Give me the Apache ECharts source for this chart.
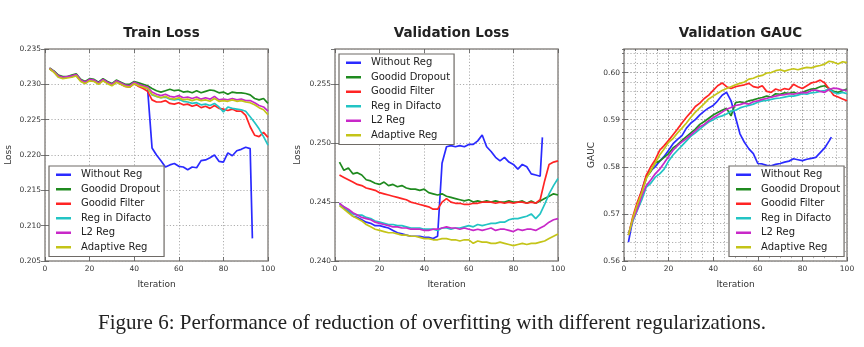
<!DOCTYPE html>
<html>
<head>
<meta charset="utf-8">
<script src="https://cdn.jsdelivr.net/npm/echarts@6/dist/echarts.min.js"></script>
<style>
html,body{margin:0;padding:0;background:#fff;}
#chart{width:864px;height:347px;}
</style>
</head>
<body>
<div id="chart"></div>
<script>
// ---------- data ----------
const seriesNames = ['Without Reg','Goodid Dropout','Goodid Filter','Reg in Difacto','L2 Reg','Adaptive Reg'];
const iterations = [2,4,6,8,10,12,14,16,18,20,22,24,26,28,30,32,34,36,38,40,42,44,46,48,50,52,54,56,58,60,62,64,66,68,70,72,74,76,78,80,82,84,86,88,90,92,94,96,98,100];
const blueIterations = [2,4,6,8,10,12,14,16,18,20,22,24,26,28,30,32,34,36,38,40,42,44,46,48,50,52,54,56,58,60,62,64,66,68,70,72,74,76,78,80,82,84,86,88,90,92,93];

const xTicks = [0,20,40,60,80,100];
const trainYTicks = [0.205,0.210,0.215,0.220,0.225,0.230,0.235];
const valYTicks = [0.240,0.245,0.250,0.255];
const gaucYTicks = [0.56,0.57,0.58,0.59,0.60];

// Train Loss
const trainBlue = [0.2322,0.2318,0.2311,0.2309,0.2310,0.2311,0.2313,0.2305,0.2302,0.2306,0.2305,0.2301,0.2306,0.2302,0.2299,0.2304,0.2301,0.2298,0.2297,0.2301,0.2298,0.2296,0.2294,
  0.2210,0.2200,0.2192,0.2183,0.2186,0.2188,0.2184,0.2183,0.2179,0.2183,0.2182,0.2192,0.2193,0.2196,0.2200,0.2191,0.2190,0.2203,0.2199,0.2206,0.2208,0.2211,0.2209,0.2082];
const trainGreen = [0.2323,0.2319,0.2313,0.2311,0.2311,0.2313,0.2315,0.2307,0.2304,0.2308,0.2307,0.2303,0.2308,0.2304,0.2301,0.2306,0.2303,0.2300,0.2300,0.2304,0.2302,0.2300,0.2298,
  0.2294,0.2291,0.2289,0.2291,0.2293,0.2291,0.2292,0.2289,0.2290,0.2288,0.2291,0.2288,0.2290,0.2292,0.2291,0.2288,0.2289,0.2286,0.2289,0.2288,0.2288,0.2287,0.2285,0.2280,0.2278,0.2280,0.2273];
const trainRed = [0.2322,0.2318,0.2311,0.2309,0.2310,0.2311,0.2313,0.2305,0.2302,0.2306,0.2305,0.2301,0.2306,0.2302,0.2299,0.2304,0.2300,0.2297,0.2296,0.2301,0.2297,0.2294,0.2290,
  0.2278,0.2275,0.2275,0.2277,0.2273,0.2272,0.2274,0.2271,0.2272,0.2269,0.2271,0.2267,0.2269,0.2266,0.2270,0.2266,0.2265,0.2263,0.2265,0.2262,0.2262,0.2256,0.2240,0.2228,0.2226,0.2232,0.2225];
const trainCyan = [0.2322,0.2318,0.2311,0.2309,0.2310,0.2311,0.2313,0.2305,0.2302,0.2306,0.2305,0.2301,0.2306,0.2302,0.2299,0.2304,0.2301,0.2298,0.2297,0.2302,0.2299,0.2297,0.2295,
  0.2285,0.2283,0.2281,0.2282,0.2279,0.2278,0.2279,0.2276,0.2275,0.2273,0.2274,0.2271,0.2272,0.2270,0.2273,0.2268,0.2261,0.2268,0.2266,0.2265,0.2264,0.2262,0.2254,0.2246,0.2237,0.2226,0.2214];
const trainMagenta = [0.2323,0.2318,0.2312,0.2310,0.2311,0.2312,0.2314,0.2306,0.2303,0.2307,0.2306,0.2302,0.2307,0.2303,0.2300,0.2305,0.2302,0.2299,0.2298,0.2303,0.2300,0.2298,0.2296,
  0.2289,0.2286,0.2284,0.2286,0.2283,0.2282,0.2284,0.2281,0.2282,0.2280,0.2282,0.2279,0.2281,0.2279,0.2283,0.2278,0.2279,0.2278,0.2280,0.2278,0.2279,0.2277,0.2277,0.2274,0.2270,0.2268,0.2262];
const trainYellow = [0.2322,0.2317,0.2310,0.2308,0.2309,0.2310,0.2312,0.2304,0.2301,0.2305,0.2304,0.2300,0.2305,0.2301,0.2298,0.2303,0.2300,0.2297,0.2296,0.2301,0.2298,0.2296,0.2294,
  0.2286,0.2283,0.2281,0.2283,0.2280,0.2279,0.2281,0.2278,0.2279,0.2277,0.2279,0.2277,0.2278,0.2276,0.2280,0.2276,0.2277,0.2276,0.2278,0.2276,0.2277,0.2275,0.2274,0.2271,0.2267,0.2264,0.2257];

// Validation Loss
const valBlue = [0.2449,0.2445,0.2442,0.2438,0.2437,0.2435,0.2433,0.2432,0.2430,0.2430,0.2429,0.2428,0.2426,0.2424,0.2423,0.2422,0.2421,0.2421,0.2421,0.2420,0.2420,0.2419,0.2421,
  0.2483,0.2497,0.2498,0.2497,0.2498,0.2497,0.2499,0.2499,0.2502,0.2507,0.2497,0.2493,0.2488,0.2485,0.2488,0.2484,0.2482,0.2478,0.2482,0.2480,0.2474,0.2473,0.2472,0.2505];
const valGreen = [0.2484,0.2477,0.2479,0.2474,0.2475,0.2473,0.2469,0.2468,0.2466,0.2465,0.2467,0.2464,0.2465,0.2463,0.2464,0.2462,0.2461,0.2461,0.2460,0.2461,0.2458,0.2457,0.2456,
  0.2457,0.2455,0.2454,0.2453,0.2452,0.2451,0.2452,0.2450,0.2451,0.2450,0.2451,0.2450,0.2451,0.2450,0.2450,0.2451,0.2450,0.2450,0.2451,0.2449,0.2451,0.2449,0.2451,0.2453,0.2455,0.2457,0.2456];
const valRed = [0.2473,0.2471,0.2469,0.2467,0.2465,0.2464,0.2462,0.2461,0.2460,0.2458,0.2457,0.2456,0.2455,0.2454,0.2453,0.2452,0.2450,0.2449,0.2448,0.2447,0.2446,0.2444,0.2444,
  0.2450,0.2453,0.2450,0.2449,0.2449,0.2448,0.2448,0.2449,0.2449,0.2450,0.2450,0.2450,0.2449,0.2450,0.2449,0.2450,0.2449,0.2450,0.2450,0.2449,0.2450,0.2449,0.2452,0.2468,0.2482,0.2484,0.2485];
const valCyan = [0.2448,0.2446,0.2443,0.2440,0.2439,0.2439,0.2437,0.2436,0.2434,0.2433,0.2432,0.2431,0.2431,0.2430,0.2430,0.2429,0.2428,0.2428,0.2428,0.2427,0.2427,0.2427,0.2426,
  0.2428,0.2428,0.2427,0.2428,0.2428,0.2429,0.2430,0.2429,0.2431,0.2430,0.2431,0.2432,0.2432,0.2433,0.2433,0.2435,0.2436,0.2436,0.2437,0.2438,0.2440,0.2436,0.2440,0.2448,0.2457,0.2464,0.2470];
const valMagenta = [0.2449,0.2446,0.2444,0.2441,0.2439,0.2437,0.2436,0.2435,0.2433,0.2432,0.2431,0.2430,0.2429,0.2429,0.2428,0.2428,0.2427,0.2427,0.2427,0.2426,0.2426,0.2427,0.2427,
  0.2428,0.2429,0.2428,0.2428,0.2427,0.2428,0.2427,0.2426,0.2427,0.2426,0.2427,0.2428,0.2426,0.2427,0.2427,0.2426,0.2425,0.2427,0.2426,0.2427,0.2427,0.2426,0.2428,0.2430,0.2433,0.2435,0.2436];
const valYellow = [0.2447,0.2444,0.2441,0.2438,0.2436,0.2434,0.2431,0.2429,0.2427,0.2426,0.2425,0.2424,0.2424,0.2423,0.2422,0.2422,0.2421,0.2421,0.2420,0.2419,0.2419,0.2418,0.2418,
  0.2419,0.2419,0.2418,0.2418,0.2417,0.2418,0.2418,0.2415,0.2417,0.2416,0.2416,0.2415,0.2415,0.2416,0.2415,0.2414,0.2413,0.2414,0.2415,0.2414,0.2415,0.2415,0.2416,0.2417,0.2419,0.2421,0.2423];

// Validation GAUC
const gaucBlue = [0.5640,0.5690,0.5720,0.5750,0.5780,0.5792,0.5800,0.5812,0.5822,0.5835,0.5849,0.5858,0.5866,0.5882,0.5893,0.5900,0.5910,0.5918,0.5925,0.5930,0.5940,0.5952,0.5958,
  0.5940,0.5905,0.5870,0.5852,0.5838,0.5828,0.5807,0.5806,0.5803,0.5802,0.5805,0.5807,0.5810,0.5812,0.5817,0.5815,0.5813,0.5816,0.5818,0.5820,0.5830,0.5840,0.5855,0.5863];
const gaucGreen = [0.5655,0.5690,0.5718,0.5745,0.5777,0.5790,0.5808,0.5812,0.5820,0.5828,0.5840,0.5847,0.5856,0.5864,0.5872,0.5880,0.5890,0.5896,0.5903,0.5910,0.5915,0.5920,0.5924,
  0.5908,0.5936,0.5938,0.5936,0.5940,0.5942,0.5945,0.5947,0.5950,0.5948,0.5955,0.5954,0.5957,0.5956,0.5958,0.5955,0.5958,0.5962,0.5965,0.5966,0.5970,0.5972,0.5966,0.5960,0.5958,0.5962,0.5965];
const gaucRed = [0.5655,0.5695,0.5725,0.5750,0.5782,0.5800,0.5815,0.5835,0.5845,0.5856,0.5868,0.5880,0.5893,0.5905,0.5916,0.5928,0.5935,0.5945,0.5952,0.5962,0.5972,0.5978,0.5970,
  0.5966,0.5970,0.5972,0.5974,0.5977,0.5970,0.5968,0.5972,0.5960,0.5958,0.5965,0.5962,0.5966,0.5964,0.5975,0.5970,0.5966,0.5972,0.5978,0.5980,0.5984,0.5978,0.5965,0.5952,0.5948,0.5944,0.5940];
const gaucCyan = [0.5655,0.5685,0.5708,0.5730,0.5757,0.5765,0.5778,0.5785,0.5795,0.5812,0.5825,0.5835,0.5845,0.5855,0.5865,0.5872,0.5880,0.5888,0.5895,0.5900,0.5905,0.5908,0.5912,
  0.5918,0.5920,0.5925,0.5928,0.5930,0.5933,0.5937,0.5940,0.5941,0.5943,0.5945,0.5946,0.5948,0.5950,0.5950,0.5952,0.5955,0.5954,0.5957,0.5958,0.5960,0.5962,0.5965,0.5958,0.5955,0.5958,0.5955];
const gaucMagenta = [0.5655,0.5688,0.5710,0.5738,0.5760,0.5772,0.5785,0.5795,0.5808,0.5822,0.5835,0.5845,0.5853,0.5860,0.5868,0.5876,0.5885,0.5890,0.5898,0.5904,0.5910,0.5916,0.5922,
  0.5926,0.5930,0.5932,0.5935,0.5933,0.5938,0.5940,0.5943,0.5945,0.5948,0.5950,0.5952,0.5953,0.5955,0.5954,0.5956,0.5958,0.5957,0.5962,0.5963,0.5960,0.5958,0.5964,0.5967,0.5966,0.5963,0.5962];
const gaucYellow = [0.5655,0.5692,0.5720,0.5745,0.5775,0.5792,0.5808,0.5825,0.5838,0.5852,0.5860,0.5872,0.5882,0.5893,0.5905,0.5916,0.5925,0.5934,0.5944,0.5950,0.5956,0.5962,0.5966,
  0.5970,0.5974,0.5977,0.5980,0.5986,0.5988,0.5992,0.5994,0.5999,0.6000,0.6004,0.6006,0.6003,0.6006,0.6008,0.6006,0.6009,0.6011,0.6010,0.6013,0.6015,0.6018,0.6024,0.6022,0.6018,0.6023,0.6021];

// ---------- style ----------
const colors = ['#2a2aff','#1f8a1f','#ff2424','#22c4c4','#c828c8','#c4c418'];
const FONT = 'DejaVu Sans';
const gridLefts = [45, 335, 624];
const GRID_TOP = 49, GRID_W = 223, GRID_H = 212;

const panels = [
  {title:'Train Loss', yName:'Loss', yMin:0.205, yMax:0.235, yInt:0.005, dec:3, nameGap:32,
   data:[trainBlue,trainGreen,trainRed,trainCyan,trainMagenta,trainYellow], legend:{left:49, top:166}, minor:false},
  {title:'Validation Loss', yName:'Loss', yMin:0.240, yMax:0.258, yInt:0.005, dec:3, nameGap:33,
   data:[valBlue,valGreen,valRed,valCyan,valMagenta,valYellow], legend:{left:339, top:54}, minor:false},
  {title:'Validation GAUC', yName:'GAUC', yMin:0.56, yMax:0.605, yInt:0.01, dec:2, nameGap:28,
   data:[gaucBlue,gaucGreen,gaucRed,gaucCyan,gaucMagenta,gaucYellow], legend:{left:729, top:166}, minor:true}
];

const grid=[], xAxis=[], yAxis=[], series=[], title=[], legend=[];
const gridLine = {color:'#9a9a9a', type:[1.2,2], width:0.8};
const tickStyle = {color:'#555', width:0.8};
const labelStyle = {fontFamily:FONT, fontSize:7.5, color:'#333'};

panels.forEach((p, gi) => {
  grid.push({left:gridLefts[gi], top:GRID_TOP, width:GRID_W, height:GRID_H, show:true,
    borderColor:'#8e8a86', borderWidth:1.5, backgroundColor:'rgba(0,0,0,0)'});
  title.push({text:p.title, left:gridLefts[gi]+GRID_W/2, top:21, textAlign:'center',
    textStyle:{fontFamily:FONT, fontSize:13.5, fontWeight:'bold', color:'#222'}});
  const xi = xAxis.length, yi = yAxis.length;
  xAxis.push({gridIndex:gi, type:'value', min:0, max:100, interval:20, position:'bottom',
    name:'Iteration', nameLocation:'middle', nameGap:19,
    nameTextStyle:{fontFamily:FONT, fontSize:9, color:'#333'},
    axisLine:{show:false}, axisTick:{show:true, inside:true, length:4, lineStyle:tickStyle},
    axisLabel:Object.assign({margin:4, formatter:v=>String(v)}, labelStyle),
    splitLine:{show:true, lineStyle:gridLine}});
  yAxis.push({gridIndex:gi, type:'value', min:p.yMin, max:p.yMax, interval:p.yInt, position:'left',
    name:p.yName, nameLocation:'middle', nameGap:p.nameGap,
    nameTextStyle:{fontFamily:FONT, fontSize:9, color:'#333'},
    axisLine:{show:false}, axisTick:{show:true, inside:true, length:4, lineStyle:tickStyle},
    axisLabel:Object.assign({margin:4, showMaxLabel: gi === 0, formatter:v=>v.toFixed(p.dec)}, labelStyle),
    splitLine:{show:true, lineStyle:gridLine}});
  xAxis.push({gridIndex:gi, type:'value', min:0, max:100, interval:p.minor?5:20, position:'top',
    axisLine:{show:false}, axisTick:{show:true, inside:true, length:p.minor?2:4, lineStyle:tickStyle},
    axisLabel:{show:false}, splitLine:{show:p.minor, lineStyle:gridLine}});
  yAxis.push({gridIndex:gi, type:'value', min:p.yMin, max:p.yMax, interval:p.minor?0.002:p.yInt, position:'right',
    axisLine:{show:false}, axisTick:{show:true, inside:true, length:p.minor?2:4, lineStyle:tickStyle},
    axisLabel:{show:false}, splitLine:{show:p.minor, lineStyle:gridLine}});
  p.data.forEach((vals, si) => {
    const xs = si === 0 ? blueIterations : iterations;
    series.push({name:seriesNames[si], type:'line', xAxisIndex:xi, yAxisIndex:yi,
      data: vals.map((v,i)=>[xs[i], v]), showSymbol:false, symbol:'none',
      lineStyle:{color:colors[si], width:1.7}, itemStyle:{color:colors[si]},
      clip:true, animation:false, z:2+si*0.01});
  });
  legend.push({show:true, orient:'vertical', left:p.legend.left, top:p.legend.top,
    data:seriesNames.map((n,si)=>({name:n, icon:'rect', itemStyle:{color:colors[si]}})),
    itemWidth:15, itemHeight:2.5, itemGap:0, selectedMode:false,
    backgroundColor:'#fff', borderColor:'#6e6a66', borderWidth:1.2, borderRadius:0,
    padding:[1.5,4,2,7],
    textStyle:{fontFamily:FONT, fontSize:10, color:'#222', lineHeight:14.5, padding:[0,0,0,5]}, z:10});
});

const chart = echarts.init(document.getElementById('chart'), null, {renderer:'canvas'});
chart.setOption({
  animation:false,
  backgroundColor:'#fff',
  title, grid, xAxis, yAxis, legend, series,
  graphic:[{type:'text', left:'center', top:313,
    style:{text:'Figure 6: Performance of reduction of overfitting with different regularizations.',
      fontFamily:'Liberation Serif', fontSize:21, fill:'#222'}}]
});
</script>
</body>
</html>
